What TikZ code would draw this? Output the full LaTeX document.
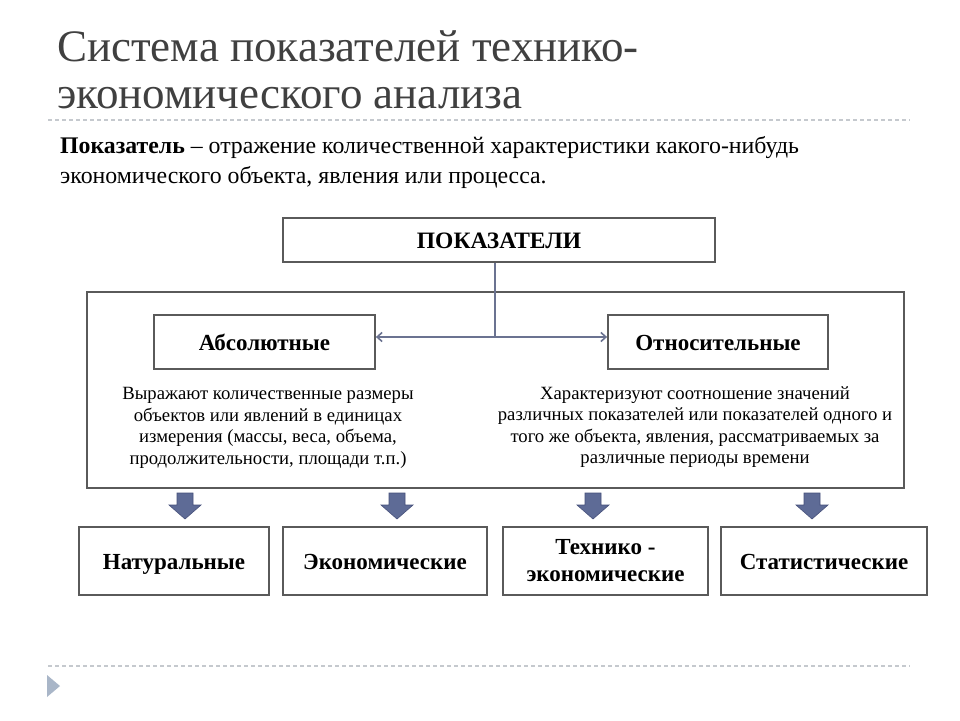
\documentclass[tikz,border=0pt]{standalone}
\usepackage{fontspec}
\setmainfont{Liberation Serif}
\usetikzlibrary{arrows.meta}
\definecolor{boxline}{HTML}{5A5A5A}
\definecolor{conn}{HTML}{6B7391}
\definecolor{barrow}{HTML}{5E6B96}
\definecolor{barrowline}{HTML}{46507A}
\definecolor{dashc}{HTML}{C5C9CE}
\definecolor{titlec}{HTML}{404040}
\definecolor{bulletc}{HTML}{A9B6C8}
\begin{document}
\begin{tikzpicture}[x=1pt,y=-1pt,
  box/.style={draw=boxline,line width=1.8pt,fill=white,inner sep=0pt,
    text height=17pt,text depth=0pt,
    font=\fontsize{23}{26}\selectfont\bfseries},
  box2/.style={draw=boxline,line width=1.8pt,fill=white,inner sep=0pt,align=center,
    font=\fontsize{23}{27}\selectfont\bfseries},
  desc/.style={align=center,inner sep=0pt,font=\fontsize{18.7}{21.5}\selectfont},
  conn/.style={draw=conn,line width=1.6pt},
  dashsep/.style={draw=dashc,line width=1.5pt,dash pattern=on 4pt off 3pt},
  blockarrow/.style={fill=barrow,draw=barrowline,line width=0.6pt}
]
\useasboundingbox[fill=white] (0,0) rectangle (960,720);

% title
\node[anchor=base west,inner sep=0pt,text=titlec,font=\fontsize{45}{50}\selectfont] (t1) at (57,61) {Система показателей технико-};
\node[anchor=base west,inner sep=0pt,text=titlec,font=\fontsize{45}{50}\selectfont] (t2) at (57,108) {экономического анализа};
\draw[dashsep] (48,120) -- (910,120);

% definition
\node[anchor=base west,inner sep=0pt,font=\fontsize{23.8}{28}\selectfont] (d1) at (60,153) {\textbf{Показатель} – отражение количественной характеристики какого-нибудь};
\node[anchor=base west,inner sep=0pt,font=\fontsize{23.8}{28}\selectfont] (d2) at (60,183) {экономического объекта, явления или процесса.};

% top box
\node[box,text height=16pt,font=\fontsize{23.5}{26}\selectfont\bfseries,minimum width=432pt,minimum height=44pt] (pok) at (499,240) {ПОКАЗАТЕЛИ};

% outer frame
\node[draw=boxline,line width=1.8pt,minimum width=817pt,minimum height=196pt,inner sep=0pt] (outer) at (495.5,390) {};

\node[box,minimum width=221pt,minimum height=54pt] (abs) at (264.5,342) {Абсолютные};
\node[box,minimum width=220pt,minimum height=54pt] (otn) at (718,342) {Относительные};

\coordinate (hub) at (495,337);
\draw[conn] (pok.south -| hub) -- (hub);
\draw[conn,{Straight Barb[length=5pt,width=9pt]}-{Straight Barb[length=5pt,width=9pt]}] (abs.east |- hub) -- (otn.west |- hub);

\node[desc] (absd) at (268,428) {Выражают количественные размеры\\объектов или явлений в единицах\\измерения (массы, веса, объема,\\продолжительности, площади т.п.)};
\node[desc] (otnd) at (695,427) {Характеризуют соотношение значений\\различных показателей или показателей одного и\\того же объекта, явления, рассматриваемых за\\различные периоды времени};

% bottom boxes
\node[box,minimum width=190pt,minimum height=68pt] (nat) at (174,561) {Натуральные};
\node[box,minimum width=204pt,minimum height=68pt] (eco) at (385,561) {Экономические};
\node[box2,minimum width=205pt,minimum height=68pt] (teh) at (605.5,561) {Технико -\\экономические};
\node[box,minimum width=206pt,minimum height=68pt] (sta) at (824,561) {Статистические};

% block arrows
\foreach \cx in {185,397,593,812}{
  \draw[blockarrow] (\cx-8,493) -- (\cx+8,493) -- (\cx+8,505) -- (\cx+16,505) -- (\cx,519) -- (\cx-16,505) -- (\cx-8,505) -- cycle;
}

% bottom separator and bullet
\draw[dashsep] (48,666) -- (910,666);
\fill[bulletc] (47,675) -- (60,686) -- (47,697) -- cycle;
\end{tikzpicture}
\end{document}
